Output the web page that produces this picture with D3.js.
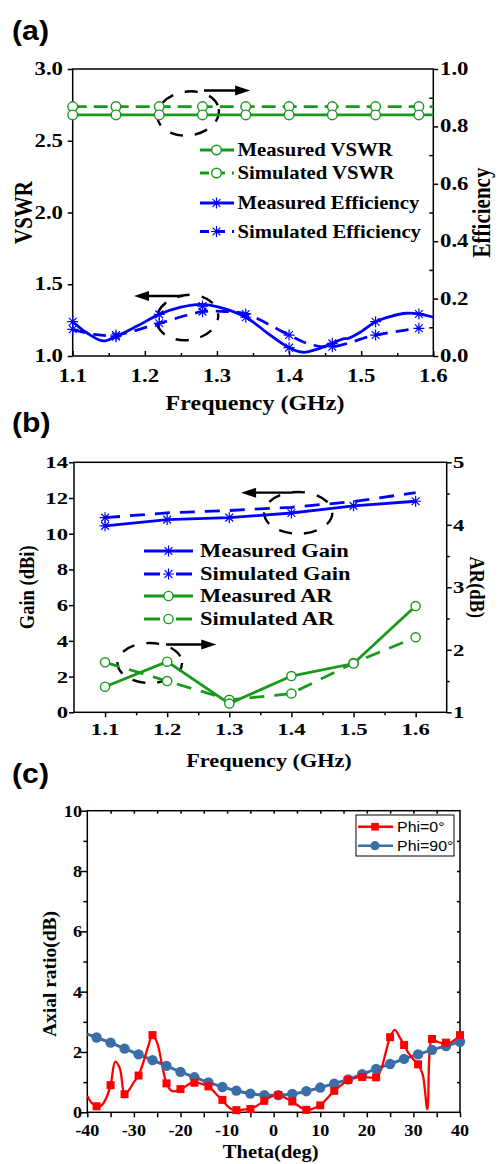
<!DOCTYPE html>
<html>
<head>
<meta charset="utf-8">
<script src="https://cdn.jsdelivr.net/npm/d3@7"></script>
<style>
  html, body { margin: 0; padding: 0; background: #fff; }
  svg { display: block; }
</style>
</head>
<body>
<svg id="fig" width="499" height="1164"></svg>
<script>
// ---- panel (a): VSWR / efficiency ----
// (legend says VSWR for the green lines, but the arrows put them on the right axis)
var freqA = [1.10, 1.16, 1.22, 1.28, 1.34, 1.40, 1.46, 1.52, 1.58];
var vswrMeas = [0.84, 0.84, 0.84, 0.84, 0.84, 0.84, 0.84, 0.84, 0.84];
var vswrSim = [0.869, 0.869, 0.869, 0.869, 0.869, 0.869, 0.869, 0.869, 0.869];
var effMeasCurveF = [1.10, 1.12, 1.142, 1.16, 1.19, 1.22, 1.25, 1.277, 1.30, 1.34, 1.37, 1.40, 1.42, 1.44, 1.46, 1.475, 1.482, 1.50, 1.52, 1.54, 1.563, 1.58, 1.60];
var effMeasCurveV = [1.239, 1.16, 1.105, 1.135, 1.21, 1.29, 1.34, 1.36, 1.344, 1.27, 1.16, 1.058, 1.026, 1.05, 1.088, 1.12, 1.123, 1.17, 1.239, 1.275, 1.298, 1.293, 1.27];
var effMeasMarks = [1.239, 1.135, 1.29, 1.348, 1.27, 1.058, 1.088, 1.239, 1.293];
var effSimF = [1.10, 1.13, 1.16, 1.22, 1.28, 1.31, 1.34, 1.40, 1.43, 1.46, 1.52, 1.58];
var effSimV = [1.186, 1.15, 1.146, 1.228, 1.309, 1.31, 1.293, 1.146, 1.08, 1.065, 1.146, 1.193];
var effSimMarks = [1.186, 1.146, 1.228, 1.309, 1.293, 1.146, 1.065, 1.146, 1.193];
var legendA = ['Measured VSWR', 'Simulated VSWR', 'Measured Efficiency', 'Simulated Efficiency'];

// ---- panel (b): gain / AR ----
var freqB = [1.1, 1.2, 1.3, 1.4, 1.5, 1.6];
var gainMeas = [10.44, 10.79, 10.9, 11.16, 11.56, 11.82];
var gainSim = [10.9, 11.17, 11.3, 11.48, 11.8, 12.3];
var gainSimMarkF = [1.1];
var arMeas = [1.41, 1.81, 1.14, 1.58, 1.78, 2.70];
var arSim = [1.80, 1.50, 1.20, 1.30, 1.79, 2.20];
var legendB = ['Measured Gain', 'Simulated Gain', 'Measured AR', 'Simulated AR'];

// ---- panel (c): axial ratio vs theta ----
var thetaPhi0 = d3.range(-40, 41);
var arPhi0 = [0.54, 0.3, 0.2, 0.22, 0.45, 0.9, 1.68, 1.45, 0.6, 0.75, 1.0, 1.22, 1.65, 2.15, 2.56, 2.3,
  1.6, 0.96, 0.72, 0.7, 0.77, 0.85, 0.95, 0.98, 0.97, 0.92, 0.86, 0.72, 0.55, 0.41, 0.22, 0.1, 0.07,
  0.08, 0.1, 0.11, 0.18, 0.28, 0.38, 0.48, 0.55, 0.57, 0.52, 0.44, 0.36, 0.25, 0.14, 0.08, 0.1, 0.16,
  0.23, 0.38, 0.55, 0.71, 0.84, 0.96, 1.07, 1.12, 1.16, 1.17, 1.16, 1.15, 1.16, 1.4, 1.95, 2.49, 2.73,
  2.5, 2.23, 1.95, 1.75, 1.59, 1.25, 0.1, 2.43, 2.35, 2.3, 2.31, 2.32, 2.42, 2.56];
var thetaPhi90 = [-40, -38, -35, -32, -29, -26, -23, -20, -17, -14, -11, -8, -5, -2, 1, 4, 7, 10, 13, 16, 19, 22, 25, 28, 31, 34, 37, 40];
var arPhi90 = [2.59, 2.48, 2.31, 2.11, 1.92, 1.73, 1.54, 1.34, 1.16, 0.99, 0.84, 0.72, 0.62, 0.57, 0.57, 0.61, 0.70, 0.82, 0.95, 1.09, 1.26, 1.44, 1.60, 1.77, 1.92, 2.07, 2.20, 2.34];
var legendC = ['Phi=0\u00b0', 'Phi=90\u00b0'];

var SERIF = '"Liberation Serif","Times New Roman",serif';
var SANS = '"Liberation Sans",Arial,sans-serif';
var GREEN = '#17991a', BLUE = '#0000ff', RED = '#ff0000', STEEL = '#3a6ea6';

var svg = d3.select('#fig');

// text helper: the source figure is stretched sideways, k widens glyphs
function label(g, txt, x, y, o) {
  var k = o.k || 1;
  var t = g.append('text').text(txt)
    .attr('font-family', o.font || SERIF)
    .attr('font-weight', o.weight || 'bold')
    .attr('font-size', o.size)
    .attr('text-anchor', o.anchor || 'start')
    .attr('fill', '#000');
  var tr = 'translate(' + x + ',' + y + ')';
  tr += o.rot ? ' rotate(' + o.rot + ') scale(1,' + k + ')' : ' scale(' + k + ',1)';
  t.attr('transform', tr);
  return t;
}

function ticks(g, gen, tx, ty) {
  var a = g.append('g').attr('transform', 'translate(' + tx + ',' + ty + ')').call(gen);
  a.select('.domain').remove();
  a.selectAll('.tick text').remove();
  a.selectAll('.tick line').attr('stroke', '#000').attr('stroke-width', 1.5);
  return a;
}

function frame(g, x0, y0, x1, y1) {
  g.append('rect').attr('x', x0).attr('y', y0).attr('width', x1 - x0).attr('height', y1 - y0)
    .attr('fill', 'none').attr('stroke', '#000').attr('stroke-width', 1.5);
}

function asterisk(r) {
  var d = r * 0.7071;
  return 'M' + (-r) + ',0L' + r + ',0M0,' + (-r) + 'L0,' + r +
    'M' + (-d) + ',' + (-d) + 'L' + d + ',' + d + 'M' + (-d) + ',' + d + 'L' + d + ',' + (-d);
}

// dashed ellipse + arrow, all in data units
function callout(g, x, y, e) {
  var cx = x(e.cx), cy = y(e.cy);
  g.append('ellipse').attr('cx', cx).attr('cy', cy)
    .attr('rx', Math.abs(x(e.cx + e.rx) - cx)).attr('ry', Math.abs(y(e.cy + e.ry) - cy))
    .attr('transform', 'rotate(' + (e.tilt || 0) + ',' + cx + ',' + cy + ')')
    .attr('fill', 'none').attr('stroke', '#000').attr('stroke-width', 2.4)
    .attr('stroke-dasharray', '13,12').attr('stroke-dashoffset', e.off || 0);
  var xa = x(e.ax0), xb = x(e.ax1), ya = y(e.ay), dir = xb > xa ? 1 : -1;
  g.append('line').attr('x1', xa).attr('y1', ya).attr('x2', xb - dir * 10).attr('y2', ya)
    .attr('stroke', '#000').attr('stroke-width', 2.4);
  g.append('path').attr('d', 'M' + xb + ',' + ya + 'L' + (xb - dir * 15) + ',' + (ya - 5) + 'L' + (xb - dir * 15) + ',' + (ya + 5) + 'Z')
    .attr('fill', '#000');
}

// ================= (a) =================
(function () {
  var P = { l: 72.7, r: 433.3, t: 69, b: 356 };
  var g = svg.append('g');
  var x = d3.scaleLinear().domain([1.1, 1.6]).range([P.l, P.r]);
  var yL = d3.scaleLinear().domain([1, 3]).range([P.b, P.t]);
  var yR = d3.scaleLinear().domain([0, 1]).range([P.b, P.t]);

  label(g, '(a)', 12, 40, { font: SANS, size: 27, k: 1.12 });

  ticks(g, d3.axisBottom(x).tickValues(d3.range(1.1, 1.61, 0.1)).tickSize(-5), 0, P.b);
  ticks(g, d3.axisBottom(x).tickValues(d3.range(1.15, 1.6, 0.1)).tickSize(-3), 0, P.b);
  ticks(g, d3.axisLeft(yL).tickValues([1, 1.5, 2, 2.5, 3]).tickSize(5), P.l, 0);
  ticks(g, d3.axisRight(yR).tickValues([0, 0.2, 0.4, 0.6, 0.8, 1]).tickSize(5), P.r, 0);
  ticks(g, d3.axisRight(yR).tickValues([0.1, 0.3, 0.5, 0.7, 0.9]).tickSize(-4), P.r, 0);
  frame(g, P.l, P.t, P.r, P.b);

  [1.1, 1.2, 1.3, 1.4, 1.5, 1.6].forEach(function (v) {
    label(g, v.toFixed(1), x(v), 382, { size: 19, k: 1.2, anchor: 'middle' });
  });
  [1, 1.5, 2, 2.5, 3].forEach(function (v) {
    label(g, v.toFixed(1), 63, yL(v) + 6, { size: 19, k: 1.2, anchor: 'end' });
  });
  [0, 0.2, 0.4, 0.6, 0.8, 1].forEach(function (v) {
    label(g, v.toFixed(1), 440, yR(v) + 6, { size: 19, k: 1.2 });
  });
  label(g, 'Frequency (GHz)', (P.l + P.r) / 2 + 2, 410, { size: 20, k: 1.2, anchor: 'middle' });
  label(g, 'VSWR', 32, (P.t + P.b) / 2, { size: 21, k: 1.2, anchor: 'middle', rot: -90 });
  label(g, 'Efficiency', 490, (P.t + P.b) / 2, { size: 21, k: 1.2, anchor: 'middle', rot: -90 });

  callout(g, x, yL, { cx: 1.26, cy: 2.69, rx: 0.043, ry: 0.153, ax0: 1.282, ax1: 1.346, ay: 2.85, tilt: -8 });
  callout(g, x, yL, { cx: 1.259, cy: 1.268, rx: 0.043, ry: 0.157, ax0: 1.253, ax1: 1.185, ay: 1.418, off: 6, tilt: -8 });

  var lineR = d3.line().x(function (d) { return x(d[0]); }).y(function (d) { return yR(d[1]); });
  var smooth = d3.line().x(function (d) { return x(d[0]); }).y(function (d) { return yL(d[1]); }).curve(d3.curveCatmullRom);

  g.append('path').attr('d', lineR([[1.1, vswrSim[0]], [1.6, vswrSim[vswrSim.length - 1]]]))
    .attr('fill', 'none').attr('stroke', GREEN).attr('stroke-width', 2.8).attr('stroke-dasharray', '14,7');
  g.append('path').attr('d', lineR([[1.1, vswrMeas[0]], [1.6, vswrMeas[vswrMeas.length - 1]]]))
    .attr('fill', 'none').attr('stroke', GREEN).attr('stroke-width', 2.8);
  [vswrSim, vswrMeas].forEach(function (arr) {
    g.selectAll(null).data(freqA).enter().append('circle')
      .attr('cx', function (d) { return x(d); }).attr('cy', function (d, i) { return yR(arr[i]); })
      .attr('r', 4.8).attr('fill', '#fff').attr('stroke', GREEN).attr('stroke-width', 1.4);
  });

  g.append('path').attr('d', smooth(d3.zip(effSimF, effSimV)))
    .attr('fill', 'none').attr('stroke', BLUE).attr('stroke-width', 2.8).attr('stroke-dasharray', '13,8');
  g.append('path').attr('d', smooth(d3.zip(effMeasCurveF, effMeasCurveV)))
    .attr('fill', 'none').attr('stroke', BLUE).attr('stroke-width', 2.8);
  [effMeasMarks, effSimMarks].forEach(function (arr) {
    g.selectAll(null).data(freqA).enter().append('path')
      .attr('transform', function (d, i) { return 'translate(' + x(d) + ',' + yL(arr[i]) + ')'; })
      .attr('d', asterisk(5.5)).attr('stroke', BLUE).attr('stroke-width', 1.2).attr('fill', 'none');
  });

  // legend
  var rows = [150, 173, 203, 231.5];
  legendA.forEach(function (name, i) {
    var c = i < 2 ? GREEN : BLUE, dash = i % 2 === 1;
    var y = rows[i];
    g.append('line').attr('x1', 200).attr('x2', 234).attr('y1', y).attr('y2', y)
      .attr('stroke', c).attr('stroke-width', 2.8).attr('stroke-dasharray', dash ? '9,7' : null);
    if (i < 2) g.append('circle').attr('cx', 216.5).attr('cy', y).attr('r', 4.8)
      .attr('fill', '#fff').attr('stroke', c).attr('stroke-width', 1.4);
    else g.append('path').attr('transform', 'translate(216.5,' + y + ')').attr('d', asterisk(5.5))
      .attr('stroke', c).attr('stroke-width', 1.2).attr('fill', 'none');
    label(g, name, 237.5, y + 6, { size: 18.5, k: 1.12 });
  });
})();

// ================= (b) =================
(function () {
  var P = { l: 74, r: 446.7, t: 462.3, b: 712.3 };
  var g = svg.append('g');
  var x = d3.scaleLinear().domain([1.05, 1.65]).range([P.l, P.r]);
  var yL = d3.scaleLinear().domain([0, 14]).range([P.b, P.t]);
  var yR = d3.scaleLinear().domain([1, 5]).range([P.b, P.t]);

  label(g, '(b)', 12, 432, { font: SANS, size: 27, k: 1.12 });

  ticks(g, d3.axisBottom(x).tickValues(freqB).tickSize(5), 0, P.b);
  ticks(g, d3.axisBottom(x).tickValues(d3.range(1.15, 1.6, 0.1)).tickSize(3), 0, P.b);
  ticks(g, d3.axisLeft(yL).tickValues(d3.range(0, 15, 2)).tickSize(5), P.l, 0);
  ticks(g, d3.axisRight(yR).tickValues([1, 2, 3, 4, 5]).tickSize(5), P.r, 0);
  ticks(g, d3.axisRight(yR).tickValues([1.5, 2.5, 3.5, 4.5]).tickSize(3), P.r, 0);
  frame(g, P.l, P.t, P.r, P.b);

  freqB.forEach(function (v) {
    label(g, v.toFixed(1), x(v), 735, { size: 17.5, k: 1.3, anchor: 'middle' });
  });
  d3.range(0, 15, 2).forEach(function (v) {
    label(g, String(v), 68, yL(v) + 6, { size: 17.5, k: 1.3, anchor: 'end' });
  });
  [1, 2, 3, 4, 5].forEach(function (v) {
    label(g, String(v), 453, yR(v) + 6, { size: 17.5, k: 1.3 });
  });
  label(g, 'Frequency (GHz)', 269, 767, { size: 19, k: 1.17, anchor: 'middle' });
  label(g, 'Gain (dBi)', 34, (P.t + P.b) / 2, { size: 18.5, k: 1.15, anchor: 'middle', rot: -90 });
  label(g, 'AR(dB)', 470, (P.t + P.b) / 2, { size: 18.5, k: 1.15, anchor: 'middle', rot: 90 });

  callout(g, x, yL, { cx: 1.411, cy: 11.17, rx: 0.055, ry: 1.17, ax0: 1.402, ax1: 1.319, ay: 12.3 });
  callout(g, x, yL, { cx: 1.172, cy: 2.76, rx: 0.052, ry: 1.12, ax0: 1.198, ax1: 1.279, ay: 3.8, off: 4 });

  var lineL = d3.line().x(function (d) { return x(d[0]); }).y(function (d) { return yL(d[1]); });
  var lineR = d3.line().x(function (d) { return x(d[0]); }).y(function (d) { return yR(d[1]); });

  g.append('path').attr('d', lineR(d3.zip(freqB, arSim))).attr('fill', 'none')
    .attr('stroke', GREEN).attr('stroke-width', 2.8).attr('stroke-dasharray', '15,10');
  g.append('path').attr('d', lineR(d3.zip(freqB, arMeas))).attr('fill', 'none')
    .attr('stroke', GREEN).attr('stroke-width', 2.8);
  [arSim, arMeas].forEach(function (arr) {
    g.selectAll(null).data(freqB).enter().append('circle')
      .attr('cx', function (d) { return x(d); }).attr('cy', function (d, i) { return yR(arr[i]); })
      .attr('r', 4.6).attr('fill', '#fff').attr('stroke', GREEN).attr('stroke-width', 1.4);
  });

  g.append('path').attr('d', lineL(d3.zip(freqB, gainSim))).attr('fill', 'none')
    .attr('stroke', BLUE).attr('stroke-width', 2.8).attr('stroke-dasharray', '15,10');
  g.append('path').attr('d', lineL(d3.zip(freqB, gainMeas))).attr('fill', 'none')
    .attr('stroke', BLUE).attr('stroke-width', 2.8);
  g.selectAll(null).data(freqB).enter().append('path')
    .attr('transform', function (d, i) { return 'translate(' + x(d) + ',' + yL(gainMeas[i]) + ')'; })
    .attr('d', asterisk(5.5)).attr('stroke', BLUE).attr('stroke-width', 1.2).attr('fill', 'none');
  g.selectAll(null).data(gainSimMarkF).enter().append('path')
    .attr('transform', function (d) { return 'translate(' + x(d) + ',' + yL(gainSim[freqB.indexOf(d)]) + ')'; })
    .attr('d', asterisk(5.5)).attr('stroke', BLUE).attr('stroke-width', 1.2).attr('fill', 'none');

  var rows = [551, 574, 596, 619];
  legendB.forEach(function (name, i) {
    var c = i < 2 ? BLUE : GREEN, dash = i % 2 === 1;
    var y = rows[i];
    g.append('line').attr('x1', 144).attr('x2', 193).attr('y1', y).attr('y2', y)
      .attr('stroke', c).attr('stroke-width', 2.8).attr('stroke-dasharray', dash ? '16,16' : null);
    if (i < 2) g.append('path').attr('transform', 'translate(168.5,' + y + ')').attr('d', asterisk(5.5))
      .attr('stroke', c).attr('stroke-width', 1.2).attr('fill', 'none');
    else g.append('circle').attr('cx', 168.5).attr('cy', y).attr('r', 4.6)
      .attr('fill', '#fff').attr('stroke', c).attr('stroke-width', 1.4);
    label(g, name, 200, y + 6, { size: 18, k: 1.25 });
  });
})();

// ================= (c) =================
(function () {
  var P = { l: 87.3, r: 460, t: 810.7, b: 1112.3 };
  var g = svg.append('g');
  var x = d3.scaleLinear().domain([-40, 40]).range([P.l, P.r]);
  var y = d3.scaleLinear().domain([0, 10]).range([P.b, P.t]);

  label(g, '(c)', 12, 783, { font: SANS, size: 27, k: 1.12 });

  ticks(g, d3.axisBottom(x).tickValues(d3.range(-40, 41, 5)).tickSize(5), 0, P.b);
  ticks(g, d3.axisTop(x).tickValues(d3.range(-35, 40, 5)).tickSize(-3), 0, P.t);
  ticks(g, d3.axisLeft(y).tickValues(d3.range(0, 11, 2)).tickSize(7), P.l, 0);
  ticks(g, d3.axisLeft(y).tickValues(d3.range(1, 10, 2)).tickSize(4), P.l, 0);
  ticks(g, d3.axisRight(y).tickValues(d3.range(1, 10, 1)).tickSize(-3), P.r, 0);
  frame(g, P.l, P.t, P.r, P.b);

  d3.range(-40, 41, 10).forEach(function (v) {
    label(g, String(v), x(v), 1136, { size: 16.5, k: 1.1, anchor: 'middle' });
  });
  d3.range(0, 11, 2).forEach(function (v) {
    label(g, String(v), 82, y(v) + 6, { size: 16.5, k: 1.1, anchor: 'end' });
  });
  label(g, 'Theta(deg)', (P.l + P.r) / 2 - 3, 1158, { size: 19, k: 1.08, anchor: 'middle' });
  label(g, 'Axial ratio(dB)', 56, 974, { size: 19.5, k: 1.0, anchor: 'middle', rot: -90 });

  var curve = d3.line().x(function (d) { return x(d[0]); }).y(function (d) { return y(d[1]); }).curve(d3.curveCatmullRom);
  g.append('path').attr('d', curve(d3.zip(thetaPhi90, arPhi90))).attr('fill', 'none')
    .attr('stroke', STEEL).attr('stroke-width', 3);
  g.append('path').attr('d', curve(d3.zip(thetaPhi0, arPhi0))).attr('fill', 'none')
    .attr('stroke', RED).attr('stroke-width', 2.3);

  // markers every 3 degrees starting at -38
  function marked(t) { return (t + 38) % 3 === 0 && t >= -38; }
  var m90 = d3.zip(thetaPhi90, arPhi90).filter(function (d) { return marked(d[0]); });
  var m0 = d3.zip(thetaPhi0, arPhi0).filter(function (d) { return marked(d[0]); });
  g.selectAll(null).data(m90).enter().append('circle')
    .attr('cx', function (d) { return x(d[0]); }).attr('cy', function (d) { return y(d[1]); })
    .attr('r', 5.2).attr('fill', STEEL);
  g.selectAll(null).data(m0).enter().append('rect')
    .attr('x', function (d) { return x(d[0]) - 4; }).attr('y', function (d) { return y(d[1]) - 4; })
    .attr('width', 8).attr('height', 8).attr('fill', RED);

  // legend box
  var L = { x0: 356, y0: 815, x1: 454, y1: 856 };
  g.append('rect').attr('x', L.x0).attr('y', L.y0).attr('width', L.x1 - L.x0).attr('height', L.y1 - L.y0)
    .attr('fill', '#fff').attr('stroke', '#000').attr('stroke-width', 1);
  var rows = [826.7, 845.7];
  legendC.forEach(function (name, i) {
    var c = i === 0 ? RED : STEEL, yy = rows[i];
    g.append('line').attr('x1', 358).attr('x2', 393).attr('y1', yy).attr('y2', yy)
      .attr('stroke', c).attr('stroke-width', 2.6);
    if (i === 0) g.append('rect').attr('x', 375 - 3.8).attr('y', yy - 3.8).attr('width', 7.6).attr('height', 7.6).attr('fill', c);
    else g.append('circle').attr('cx', 375).attr('cy', yy).attr('r', 4.6).attr('fill', c);
    label(g, name, 397, yy + 5, { font: SANS, weight: 'normal', size: 14.5, k: 1.1 });
  });
})();
</script>
</body>
</html>
